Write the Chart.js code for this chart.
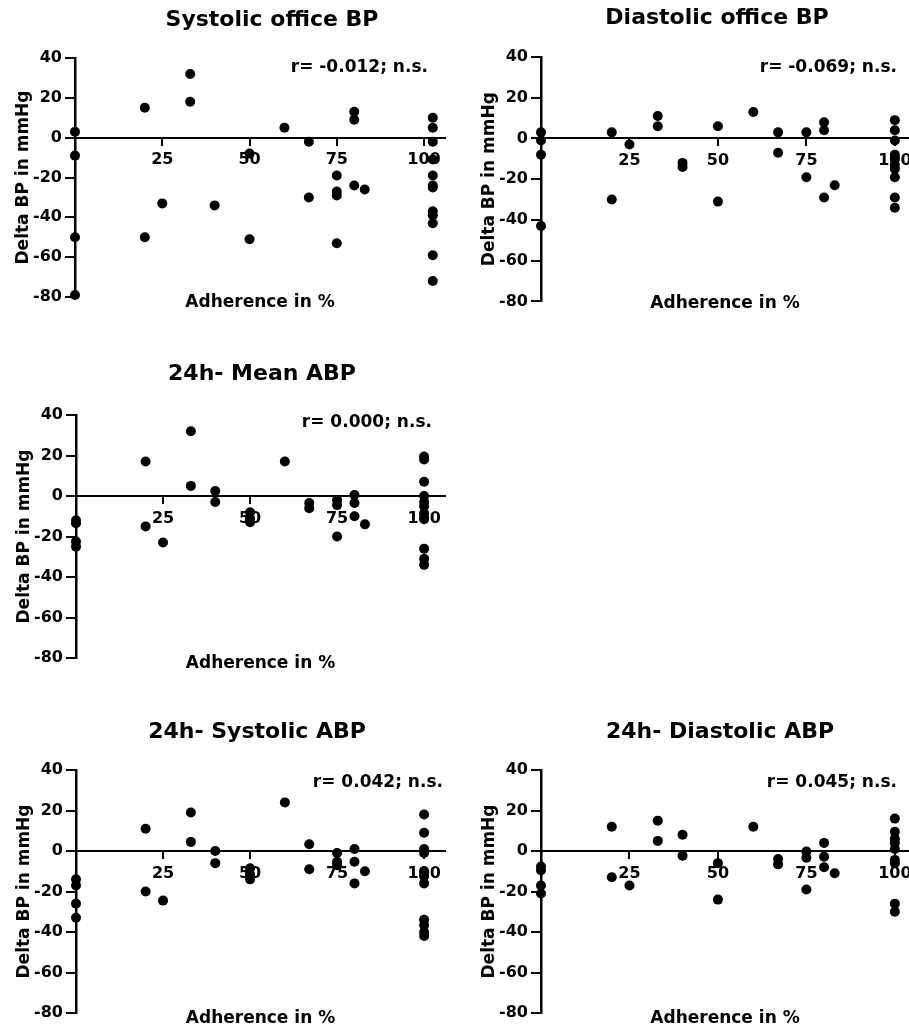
<!DOCTYPE html>
<html>
<head>
<meta charset="utf-8">
<script src="https://cdn.jsdelivr.net/npm/chart.js@4.4.0/dist/chart.umd.min.js"></script>
<style>
  html, body { margin: 0; padding: 0; background: #fff; width: 909px; height: 1027px; overflow: hidden; }
  canvas { position: absolute; }
</style>
</head>
<body>
<canvas id="c1"></canvas>
<canvas id="c2"></canvas>
<canvas id="c3"></canvas>
<canvas id="c4"></canvas>
<canvas id="c5"></canvas>
<script>
// adherence (%) and change in BP (mmHg)
const sysOfficeX = [0, 0, 0, 0, 20, 20, 25, 33, 33, 40, 50, 50, 60, 67, 67, 75, 75, 75, 75, 80, 80, 80, 83,
  102.5, 102.5, 102.5, 102.5, 102.5, 102.5, 102.5, 102.5, 102.5, 102.5, 102.5, 102.5];
const sysOfficeY = [3, -9, -50, -79, 15, -50, -33, 32, 18, -34, -8, -51, 5, -2, -30, -19, -27, -29, -53, 13, 9, -24, -26,
  10, 5, -2, -11, -19, -24, -25, -37, -39, -43, -59, -72];

const diaOfficeX = [0, 0, 0, 0, 20, 20, 25, 33, 33, 40, 40, 50, 50, 60, 67, 67, 75, 75, 80, 80, 80, 83,
  100, 100, 100, 100, 100, 100, 100, 100, 100, 100];
const diaOfficeY = [3, -1, -8, -43, 3, -30, -3, 11, 6, -12, -14, 6, -31, 13, 3, -7, 3, -19, 8, 4, -29, -23,
  9, 4, -1, -8, -10, -13, -15, -19, -29, -34];

const meanAbpX = [0, 0, 0, 0, 20, 20, 25, 33, 33, 40, 40, 50, 50, 50, 60, 67, 67, 75, 75, 75, 80, 80, 80, 83,
  100, 100, 100, 100, 100, 100, 100, 100, 100, 100, 100];
const meanAbpY = [-12, -13.5, -22.5, -25, 17, -15, -23, 32, 5, 2.5, -3, -8, -11, -13, 17, -3.5, -6, -2, -4.5, -20, 0.5, -3.5, -10, -14,
  19.5, 18, 7, 0, -3, -5, -8.5, -11.5, -26, -31, -34];

const sysAbpX = [0, 0, 0, 0, 20, 20, 25, 33, 33, 40, 40, 50, 50, 50, 60, 67, 67, 75, 75, 75, 80, 80, 80, 83,
  100, 100, 100, 100, 100, 100, 100, 100, 100, 100, 100];
const sysAbpY = [-14, -17, -26, -33, 11, -20, -24.5, 19, 4.5, 0, -6, -8.5, -11.5, -14, 24, 3.3, -9, -1, -5.3, -7, 1, -5.3, -16, -10,
  18, 9, 1, -1, -10, -12.5, -16, -34, -36.5, -40, -42];

const diaAbpX = [0, 0, 0, 0, 20, 20, 25, 33, 33, 40, 40, 50, 50, 60, 67, 67, 75, 75, 75, 80, 80, 80, 83,
  100, 100, 100, 100, 100, 100, 100, 100, 100];
const diaAbpY = [-7.7, -9.5, -17, -21, 12, -13, -17, 15, 5, 8, -2.3, -6, -24, 12, -4, -6.6, -0.3, -3.3, -19, 4, -2.8, -8, -11,
  16, 9.5, 6, 4, 1, -4.4, -6, -26, -30];

const yTicks = [-80, -60, -40, -20, 0, 20, 40];
const xTicks = [25, 50, 75, 100];

Chart.defaults.font.family = "'DejaVu Sans', sans-serif";
Chart.defaults.font.weight = 'bold';
Chart.defaults.color = '#000';

// r-value text in the upper right of each plot
const noteLabel = {
  id: 'note',
  afterDraw(chart, args, opts) {
    const { ctx, chartArea } = chart;
    ctx.save();
    ctx.font = "bold 17px 'DejaVu Sans'";
    ctx.fillStyle = '#000';
    ctx.textAlign = 'right';
    ctx.textBaseline = 'middle';
    ctx.fillText(opts.text, chartArea.right - opts.dx, chartArea.top + opts.dy);
    ctx.restore();
  }
};

function makePanel(id, title, note, xs, ys, box) {
  const canvas = document.getElementById(id);
  const w = box.right - box.left, h = box.bottom - box.top;
  canvas.width = w; canvas.height = h;
  canvas.style.left = box.left + 'px';
  canvas.style.top = box.top + 'px';
  canvas.style.width = w + 'px';
  canvas.style.height = h + 'px';

  new Chart(canvas, {
    type: 'scatter',
    data: {
      datasets: [{
        data: xs.map((x, i) => ({ x: x, y: ys[i] })),
        backgroundColor: '#000',
        borderWidth: 0,
        pointRadius: 5,
        clip: false
      }]
    },
    options: {
      responsive: false,
      animation: false,
      devicePixelRatio: 1,
      events: [],
      layout: { padding: { left: box.padL, right: 0, top: 0, bottom: 0 } },
      plugins: {
        legend: { display: false },
        tooltip: { enabled: false },
        title: {
          display: true,
          text: title,
          color: '#000',
          font: { size: 22, weight: 'bold', lineHeight: 1.2 },
          padding: { top: 0, bottom: box.titlePad }
        },
        note: { text: note, dx: box.noteDx, dy: box.noteDy }
      },
      scales: {
        x: {
          type: 'linear',
          position: { y: 0 },
          min: 0,
          max: box.xMax,
          afterBuildTicks: (s) => { s.ticks = [0].concat(xTicks).map(v => ({ value: v })); },
          ticks: {
            callback: (v) => (v === 0 ? '' : v),
            font: { size: 16, weight: 'bold' },
            color: '#000',
            padding: 6,
            maxRotation: 0
          },
          grid: { drawOnChartArea: false, drawTicks: true, tickLength: 7, color: '#000', lineWidth: 2 },
          border: { display: true, color: '#000', width: 2 }
        },
        y: {
          type: 'linear',
          position: 'left',
          min: -80,
          max: 40,
          afterBuildTicks: (s) => { s.ticks = yTicks.map(v => ({ value: v })); },
          afterFit: (s) => { s.width = 62; },
          ticks: { font: { size: 16, weight: 'bold' }, color: '#000', padding: 3 },
          grid: { drawOnChartArea: false, drawTicks: true, tickLength: 10, color: '#000', lineWidth: 2 },
          border: { display: true, color: '#000', width: 2.5 },
          title: {
            display: true,
            text: 'Delta BP in mmHg',
            color: '#000',
            font: { size: 17, weight: 'bold', lineHeight: 1.2 },
            padding: { top: 0, bottom: 0 }
          }
        },
        x2: {
          type: 'linear',
          position: 'bottom',
          afterFit: (s) => { s.height = box.xTitleH; },
          ticks: { display: false },
          grid: { display: false, drawTicks: false },
          border: { display: false },
          title: {
            display: true,
            text: 'Adherence in %',
            color: '#000',
            font: { size: 17, weight: 'bold', lineHeight: 1.2 },
            padding: { top: 0, bottom: 0 }
          }
        },
        yr: {
          type: 'linear',
          position: 'right',
          afterFit: (s) => { s.width = box.rW; },
          ticks: { display: false },
          grid: { display: false, drawTicks: false },
          border: { display: false }
        }
      }
    },
    plugins: [noteLabel]
  });
}

makePanel('c1', 'Systolic office BP', 'r= -0.012; n.s.', sysOfficeX, sysOfficeY,
  { left: 0, top: 7, right: 531, bottom: 313, padL: 13, rW: 86, titlePad: 24.6, xTitleH: 16, xMax: 106, noteDx: 17, noteDy: 10 });
makePanel('c2', 'Diastolic office BP', 'r= -0.069; n.s.', diaOfficeX, diaOfficeY,
  { left: 479, top: 5, right: 955, bottom: 314, padL: 0, rW: 46, titlePad: 25.6, xTitleH: 12, xMax: 104, noteDx: 12, noteDy: 11 });
makePanel('c3', '24h- Mean ABP', 'r= 0.000; n.s.', meanAbpX, meanAbpY,
  { left: 0, top: 361, right: 510, bottom: 674, padL: 14, rW: 65, titlePad: 27.6, xTitleH: 16, xMax: 106, noteDx: 13, noteDy: 8 });
makePanel('c4', '24h- Systolic ABP', 'r= 0.042; n.s.', sysAbpX, sysAbpY,
  { left: 0, top: 719, right: 500, bottom: 1029, padL: 14, rW: 55, titlePad: 24.6, xTitleH: 16, xMax: 106, noteDx: 2, noteDy: 13 });
makePanel('c5', '24h- Diastolic ABP', 'r= 0.045; n.s.', diaAbpX, diaAbpY,
  { left: 479, top: 719, right: 961, bottom: 1029, padL: 0, rW: 52, titlePad: 24.6, xTitleH: 16, xMax: 104, noteDx: 12, noteDy: 13 });
</script>
</body>
</html>
